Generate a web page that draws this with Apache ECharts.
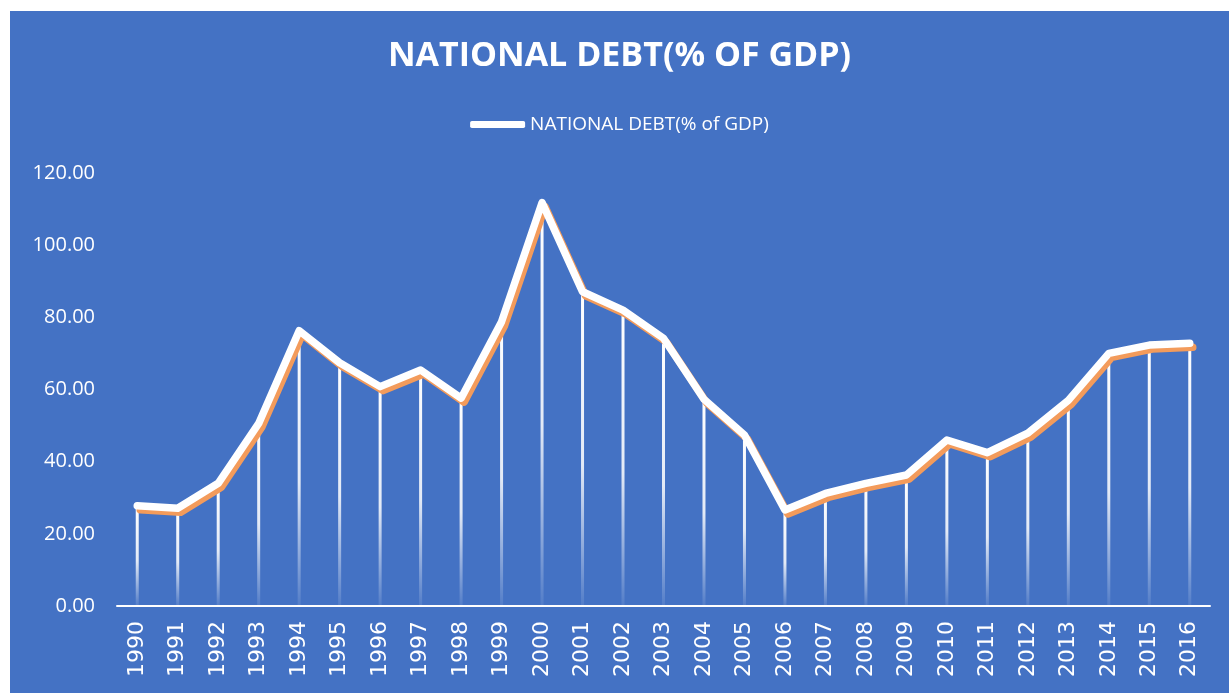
<!DOCTYPE html>
<html>
<head>
<meta charset="utf-8">
<title>National Debt (% of GDP)</title>
<script src="https://cdn.jsdelivr.net/npm/echarts@6/dist/echarts.min.js"></script>
<style>
  html, body { margin: 0; padding: 0; background: #ffffff; }
  #chart { position: absolute; left: 10px; top: 11px; width: 1219px; height: 682px; }
</style>
</head>
<body>
<div id="chart"></div>
<script>
// Years on the category axis
const years = ['1990','1991','1992','1993','1994','1995','1996','1997','1998','1999',
               '2000','2001','2002','2003','2004','2005','2006','2007','2008','2009',
               '2010','2011','2012','2013','2014','2015','2016'];

// National debt as a share of GDP (%)
const debtPct = [27.8, 27.1, 34.0, 50.6, 76.3, 67.4, 60.8, 65.4, 57.6, 78.8,
                 111.8, 87.1, 82.0, 74.2, 57.3, 47.4, 26.6, 31.2, 34.0, 36.3,
                 46.0, 42.5, 47.9, 57.0, 70.0, 72.3, 72.8];

const seriesName = 'NATIONAL DEBT(% of GDP)';
const chartTitle = 'NATIONAL DEBT(% OF GDP)';

const chart = echarts.init(document.getElementById('chart'), null, { renderer: 'canvas' });

chart.setOption({
  backgroundColor: '#4472C4',
  animation: false,
  title: {
    text: chartTitle,
    left: 'center',
    top: 23,
    textStyle: {
      color: '#ffffff',
      fontFamily: 'Open Sans',
      fontWeight: 'bold',
      fontSize: 34
    }
  },
  legend: {
    data: [seriesName],
    top: 99,
    left: 'center',
    icon: 'roundRect',
    itemWidth: 55,
    itemHeight: 7,
    itemGap: 0,
    textStyle: {
      color: '#ffffff',
      fontFamily: 'Open Sans',
      fontSize: 19
    }
  },
  grid: {
    left: 107,
    right: 19,
    top: 162,
    bottom: 87,
    containLabel: false
  },
  xAxis: {
    type: 'category',
    data: years,
    boundaryGap: true,
    axisLine: { show: true, lineStyle: { color: '#ffffff', width: 2 } },
    axisTick: { show: false },
    axisLabel: {
      color: '#ffffff',
      rotate: 90,
      interval: 0,
      margin: 15,
      fontFamily: 'DejaVu Sans',
      fontSize: 22
    },
    splitLine: { show: false }
  },
  yAxis: {
    type: 'value',
    min: 0,
    max: 120,
    interval: 20,
    axisLine: { show: false },
    axisTick: { show: false },
    splitLine: { show: false },
    axisLabel: {
      color: '#ffffff',
      margin: 22,
      fontFamily: 'Open Sans',
      fontSize: 20,
      formatter: v => v.toFixed(2)
    }
  },
  series: [
    {
      // drop lines from each point down to the axis
      name: 'drop',
      type: 'bar',
      data: debtPct,
      barWidth: 3,
      silent: true,
      z: 1,
      itemStyle: {
        color: new echarts.graphic.LinearGradient(0, 0, 0, 1, [
          { offset: 0, color: 'rgba(255,255,255,1)' },
          { offset: 0.55, color: 'rgba(255,255,255,0.85)' },
          { offset: 1, color: 'rgba(255,255,255,0.08)' }
        ])
      }
    },
    {
      name: seriesName,
      type: 'line',
      data: debtPct,
      symbol: 'none',
      z: 3,
      itemStyle: { color: '#ffffff' },
      lineStyle: {
        color: '#ffffff',
        width: 7.5,
        cap: 'round',
        join: 'round',
        shadowColor: '#F39B5B',
        shadowBlur: 0,
        shadowOffsetX: 3,
        shadowOffsetY: 4
      }
    }
  ]
});
</script>
</body>
</html>
